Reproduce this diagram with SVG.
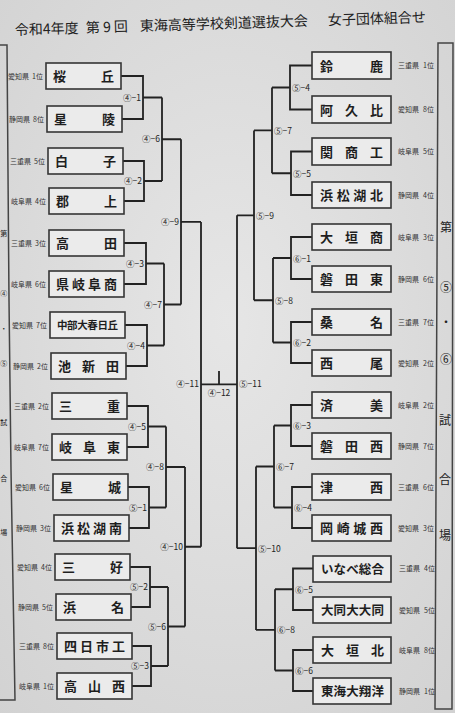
<svg xmlns="http://www.w3.org/2000/svg" width="455" height="713" viewBox="0 0 455 713">
<defs>
<radialGradient id="bgGrad" cx="50%" cy="45%" r="75%">
<stop offset="0" stop-color="#e6e6e6"/>
<stop offset="1" stop-color="#d2d2d2"/>
</radialGradient>
<style>
text{font-family:"Noto Sans CJK JP","Noto Sans CJK SC",sans-serif;fill:#1e1e1e}
.box{fill:#ebebeb;stroke:#353535;stroke-width:1.6}
.name{font-size:13px;font-weight:700}
.n5{font-size:12.5px}
.n6{font-size:10.5px}
.pref{font-size:7px;fill:#333}
.prefL{text-anchor:end}
.code{font-size:8.5px;fill:#222}
.codeL{text-anchor:end}
.side{font-size:12px;text-anchor:middle;fill:#222}
.sideL{font-size:7px;text-anchor:middle;fill:#222}
.title{font-size:14px;fill:#222}
#connectors path{fill:none;stroke:#222;stroke-width:1.8}
.frame{fill:none;stroke:#444;stroke-width:1.5}
</style>
</defs>
<rect width="455" height="713" fill="url(#bgGrad)"/>

<g id="title" transform="rotate(-1.8 220 28)">
<text class="title" x="15" y="28.5">令和4年度</text>
<text class="title" x="86" y="28.5">第 9 回</text>
<text class="title" x="140" y="28.5">東海高等学校剣道選抜大会</text>
<text class="title" x="328" y="28.5">女子団体組合せ</text>
</g>

<g id="left-column">
<polyline class="frame" points="-4,45 7,45 9,300 11,470 15,700 -4,700"/>
<text class="sideL" x="3.8" y="236">第</text>
<text class="sideL" x="3.8" y="296">④</text>
<text class="sideL" x="3.8" y="331">・</text>
<text class="sideL" x="3.8" y="366">⑤</text>
<text class="sideL" x="3.8" y="425">試</text>
<text class="sideL" x="3.8" y="481">合</text>
<text class="sideL" x="3.8" y="535">場</text>
</g>

<g id="right-column">
<polygon class="frame" points="438,43 453,43 452,709 435,709"/>
<text class="side" x="446" y="232">第</text>
<text class="side" x="446" y="292">⑤</text>
<text class="side" x="446" y="327">・</text>
<text class="side" x="446" y="364">⑥</text>
<text class="side" x="445" y="425">試</text>
<text class="side" x="445" y="484">合</text>
<text class="side" x="445" y="540">場</text>
</g>

<g id="connectors">
<path d="M121 76 H143 V119 H122 M143 97.5 H162"/>
<path d="M123 161 H144 V201 H124 M144 181 H162"/>
<path d="M162 97.5 V181 M162 139.25 H181"/>
<path d="M124 243 H146 V284 H124 M146 263.5 H164"/>
<path d="M125 325 H147 V366 H126 M147 345.5 H164"/>
<path d="M164 263.5 V345.5 M164 304.5 H181"/>
<path d="M181 139.25 V304.5 M181 221.9 H201"/>
<path d="M127 406 H148 V447 H127 M148 426.5 H166"/>
<path d="M128 487 H149 V528 H129 M149 507.5 H166"/>
<path d="M166 426.5 V507.5 M166 467 H185"/>
<path d="M130 567 H150 V607 H131 M150 587 H168"/>
<path d="M132 646 H151 V686 H132 M151 666 H168"/>
<path d="M168 587 V666 M168 626.5 H185"/>
<path d="M185 467 V626.5 M185 546.75 H201"/>
<path d="M201 221.9 V546.75 M201 384.3 H237 M219 371 V384.3"/>
<path d="M312 65.5 H290 V109.5 H312 M290 87.5 H272"/>
<path d="M312 151.5 H291 V195 H312 M291 173.25 H272"/>
<path d="M272 87.5 V173.25 M272 130.4 H254"/>
<path d="M312 237 H291 V279 H312 M291 258 H273"/>
<path d="M312 322 H291 V363 H312 M291 342.5 H273"/>
<path d="M273 258 V342.5 M273 300.25 H254"/>
<path d="M254 130.4 V300.25 M254 215.3 H237"/>
<path d="M312 405 H291 V446 H312 M291 425.5 H274"/>
<path d="M312 487 H292 V528 H312 M292 507.5 H274"/>
<path d="M274 425.5 V507.5 M274 466.5 H256"/>
<path d="M313 568.5 H293 V610 H313 M293 589.25 H275"/>
<path d="M313 650 H293 V691 H313 M293 670.5 H275"/>
<path d="M275 589.25 V670.5 M275 629.9 H256"/>
<path d="M256 466.5 V629.9 M256 548.2 H237"/>
<path d="M237 215.3 V548.2"/>
</g>

<g id="match-codes">
<text class="code codeL" x="141" y="100.5">④−1</text>
<text class="code codeL" x="142" y="184">④−2</text>
<text class="code codeL" x="160" y="142.3">④−6</text>
<text class="code codeL" x="144" y="266.5">④−3</text>
<text class="code codeL" x="145" y="348.5">④−4</text>
<text class="code codeL" x="162" y="307.5">④−7</text>
<text class="code codeL" x="179" y="224.9">④−9</text>
<text class="code codeL" x="146" y="429.5">④−5</text>
<text class="code codeL" x="147" y="510.5">⑤−1</text>
<text class="code codeL" x="164" y="470">④−8</text>
<text class="code codeL" x="148" y="590">⑤−2</text>
<text class="code codeL" x="149" y="669">⑤−3</text>
<text class="code codeL" x="166" y="629.5">⑤−6</text>
<text class="code codeL" x="183" y="549.8">④−10</text>
<text class="code codeL" x="199" y="387.3">④−11</text>
<text class="code" x="219" y="396" text-anchor="middle">④−12</text>
<text class="code" x="239" y="387.3">⑤−11</text>
<text class="code" x="292" y="91">⑤−4</text>
<text class="code" x="293" y="176.8">⑤−5</text>
<text class="code" x="274" y="133.9">⑤−7</text>
<text class="code" x="293" y="261.5">⑥−1</text>
<text class="code" x="293" y="346">⑥−2</text>
<text class="code" x="275" y="303.8">⑤−8</text>
<text class="code" x="256" y="218.8">⑤−9</text>
<text class="code" x="293" y="429">⑥−3</text>
<text class="code" x="294" y="511">⑥−4</text>
<text class="code" x="276" y="470">⑥−7</text>
<text class="code" x="295" y="592.8">⑥−5</text>
<text class="code" x="295" y="674">⑥−6</text>
<text class="code" x="277" y="633.4">⑥−8</text>
<text class="code" x="258" y="551.7">⑤−10</text>
</g>

<g id="team-L1"><rect class="box" x="46" y="63" width="75" height="26"/><text class="name" x="53 101" y="81">桜丘</text><text class="pref prefL" x="43" y="78.5">愛知県<tspan dx="3">1位</tspan></text></g>
<g id="team-L2"><rect class="box" x="47" y="106" width="75" height="26"/><text class="name" x="54 102" y="124">星陵</text><text class="pref prefL" x="44" y="121.5">静岡県<tspan dx="3">8位</tspan></text></g>
<g id="team-L3"><rect class="box" x="48" y="148" width="75" height="26"/><text class="name" x="55 103" y="166">白子</text><text class="pref prefL" x="45" y="163.5">三重県<tspan dx="3">5位</tspan></text></g>
<g id="team-L4"><rect class="box" x="49" y="188" width="75" height="26"/><text class="name" x="56 104" y="206">郡上</text><text class="pref prefL" x="46" y="203.5">岐阜県<tspan dx="3">4位</tspan></text></g>
<g id="team-L5"><rect class="box" x="49" y="230" width="75" height="26"/><text class="name" x="56 104" y="248">高田</text><text class="pref prefL" x="46" y="245.5">三重県<tspan dx="3">3位</tspan></text></g>
<g id="team-L6"><rect class="box" x="49" y="271" width="75" height="26"/><text class="name" x="56 72 88 104" y="289">県岐阜商</text><text class="pref prefL" x="46" y="286.5">岐阜県<tspan dx="3">6位</tspan></text></g>
<g id="team-L7"><rect class="box" x="50" y="312" width="75" height="26"/><text class="name n6" x="57 67.1 77.2 87.3 97.4 107.5" y="329">中部大春日丘</text><text class="pref prefL" x="47" y="327.5">愛知県<tspan dx="3">7位</tspan></text></g>
<g id="team-L8"><rect class="box" x="51" y="353" width="75" height="26"/><text class="name" x="58 82 106" y="371">池新田</text><text class="pref prefL" x="48" y="368.5">静岡県<tspan dx="3">2位</tspan></text></g>
<g id="team-L9"><rect class="box" x="52" y="393" width="75" height="26"/><text class="name" x="59 107" y="411">三重</text><text class="pref prefL" x="49" y="408.5">三重県<tspan dx="3">2位</tspan></text></g>
<g id="team-L10"><rect class="box" x="52" y="434" width="75" height="26"/><text class="name" x="59 83 107" y="452">岐阜東</text><text class="pref prefL" x="49" y="449.5">岐阜県<tspan dx="3">7位</tspan></text></g>
<g id="team-L11"><rect class="box" x="53" y="474" width="75" height="26"/><text class="name" x="60 108" y="492">星城</text><text class="pref prefL" x="50" y="489.5">愛知県<tspan dx="3">6位</tspan></text></g>
<g id="team-L12"><rect class="box" x="54" y="515" width="75" height="26"/><text class="name" x="61 77 93 109" y="533">浜松湖南</text><text class="pref prefL" x="51" y="530.5">静岡県<tspan dx="3">3位</tspan></text></g>
<g id="team-L13"><rect class="box" x="55" y="554" width="75" height="26"/><text class="name" x="62 110" y="572">三好</text><text class="pref prefL" x="52" y="569.5">愛知県<tspan dx="3">4位</tspan></text></g>
<g id="team-L14"><rect class="box" x="56" y="594" width="75" height="26"/><text class="name" x="63 111" y="612">浜名</text><text class="pref prefL" x="53" y="609.5">静岡県<tspan dx="3">5位</tspan></text></g>
<g id="team-L15"><rect class="box" x="57" y="633" width="75" height="26"/><text class="name" x="64 80 96 112" y="651">四日市工</text><text class="pref prefL" x="54" y="648.5">三重県<tspan dx="3">8位</tspan></text></g>
<g id="team-L16"><rect class="box" x="57" y="673" width="75" height="26"/><text class="name" x="64 88 112" y="691">高山西</text><text class="pref prefL" x="54" y="688.5">岐阜県<tspan dx="3">1位</tspan></text></g>

<g id="team-R1"><rect class="box" x="312" y="52" width="79" height="27"/><text class="name" x="320 370" y="70.5">鈴鹿</text><text class="pref" x="398" y="68">三重県<tspan dx="4">1位</tspan></text></g>
<g id="team-R2"><rect class="box" x="312" y="96" width="79" height="27"/><text class="name" x="320 345 370" y="114.5">阿久比</text><text class="pref" x="398" y="112">愛知県<tspan dx="4">8位</tspan></text></g>
<g id="team-R3"><rect class="box" x="312" y="138" width="79" height="27"/><text class="name" x="320 345 370" y="156.5">関商工</text><text class="pref" x="398" y="154">岐阜県<tspan dx="4">5位</tspan></text></g>
<g id="team-R4"><rect class="box" x="312" y="182" width="79" height="26"/><text class="name" x="320 336.7 353.3 370" y="200">浜松湖北</text><text class="pref" x="398" y="197.5">静岡県<tspan dx="4">4位</tspan></text></g>
<g id="team-R5"><rect class="box" x="312" y="224" width="79" height="26"/><text class="name" x="320 345 370" y="242">大垣商</text><text class="pref" x="398" y="239.5">岐阜県<tspan dx="4">3位</tspan></text></g>
<g id="team-R6"><rect class="box" x="312" y="266" width="79" height="26"/><text class="name" x="320 345 370" y="284">磐田東</text><text class="pref" x="398" y="281.5">静岡県<tspan dx="4">6位</tspan></text></g>
<g id="team-R7"><rect class="box" x="312" y="309" width="79" height="26"/><text class="name" x="320 370" y="327">桑名</text><text class="pref" x="398" y="324.5">三重県<tspan dx="4">7位</tspan></text></g>
<g id="team-R8"><rect class="box" x="312" y="350" width="79" height="26"/><text class="name" x="320 370" y="368">西尾</text><text class="pref" x="398" y="365.5">愛知県<tspan dx="4">2位</tspan></text></g>
<g id="team-R9"><rect class="box" x="312" y="392" width="79" height="26"/><text class="name" x="320 370" y="410">済美</text><text class="pref" x="398" y="407.5">岐阜県<tspan dx="4">2位</tspan></text></g>
<g id="team-R10"><rect class="box" x="312" y="433" width="79" height="26"/><text class="name" x="320 345 370" y="451">磐田西</text><text class="pref" x="398" y="448.5">静岡県<tspan dx="4">7位</tspan></text></g>
<g id="team-R11"><rect class="box" x="312" y="474" width="79" height="26"/><text class="name" x="320 370" y="492">津西</text><text class="pref" x="398" y="489.5">三重県<tspan dx="4">6位</tspan></text></g>
<g id="team-R12"><rect class="box" x="312" y="515" width="79" height="26"/><text class="name" x="320 336.7 353.3 370" y="533">岡崎城西</text><text class="pref" x="398" y="530.5">愛知県<tspan dx="4">3位</tspan></text></g>
<g id="team-R13"><rect class="box" x="313" y="556" width="78" height="26"/><text class="name n5" x="321 333.6 346.2 358.8 371.4" y="573.5">いなべ総合</text><text class="pref" x="399" y="571">三重県<tspan dx="4">4位</tspan></text></g>
<g id="team-R14"><rect class="box" x="313" y="597" width="78" height="26"/><text class="name n5" x="321 333.6 346.2 358.8 371.4" y="614.5">大同大大同</text><text class="pref" x="399" y="612.5">愛知県<tspan dx="4">5位</tspan></text></g>
<g id="team-R15"><rect class="box" x="313" y="637" width="78" height="26"/><text class="name" x="321 346 371" y="655">大垣北</text><text class="pref" x="399" y="652.5">岐阜県<tspan dx="4">8位</tspan></text></g>
<g id="team-R16"><rect class="box" x="313" y="678" width="78" height="26"/><text class="name n5" x="321 333.6 346.2 358.8 371.4" y="695.5">東海大翔洋</text><text class="pref" x="399" y="693.5">静岡県<tspan dx="4">1位</tspan></text></g>
</svg>
